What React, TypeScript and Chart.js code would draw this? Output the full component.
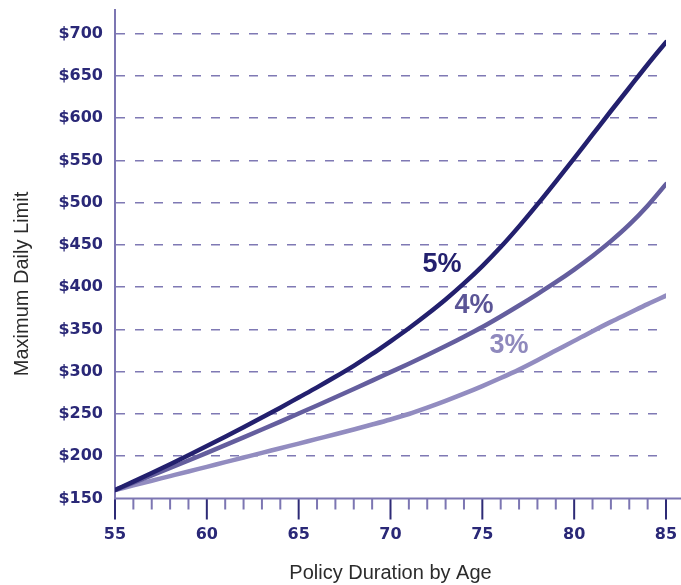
import React, { useEffect, useRef } from "react";
import { Chart, registerables } from "chart.js";

Chart.register(...registerables);

// ---- data ----
const AGES = [55, 56, 57, 58, 59, 60, 61, 62, 63, 64, 65, 66, 67, 68, 69, 70, 71, 72, 73, 74, 75, 76, 77, 78, 79, 80, 81, 82, 83, 84, 85];
const LIMIT_5 = [160, 170, 180.2, 190.6, 201.2, 212, 223, 234.3, 245.9, 257.5, 269.5, 281.5, 294, 307, 321, 336, 351.5, 368, 385.5, 404.5, 425, 447.5, 472, 498, 525, 552.5, 580.5, 608.5, 636, 663.5, 690];
const LIMIT_4 = [160, 168.6, 177.3, 186.1, 195, 204, 213.1, 222.3, 231.6, 241, 250.5, 260.1, 269.8, 279.6, 289.5, 299.5, 309.5, 319.8, 330.4, 341.4, 352.9, 365.4, 378.4, 391.9, 405.9, 420.9, 437, 454.5, 474, 496.5, 522];
const LIMIT_3 = [160, 165.5, 171, 176.5, 182, 187.5, 193, 198.5, 204, 209.5, 215, 220.5, 226, 231.7, 237.5, 243.5, 250, 257.5, 265.5, 274, 283, 292.5, 302.5, 313.5, 325, 336.5, 348, 359, 369.5, 380, 390];
const SERIES_NAMES = ["5%", "4%", "3%"];
const Y_TICKS = [150, 200, 250, 300, 350, 400, 450, 500, 550, 600, 650, 700];
const X_TICKS = [55, 60, 65, 70, 75, 80, 85];
const X_TITLE = "Policy Duration by Age";
const Y_TITLE = "Maximum Daily Limit";

// label anchors (in data coordinates)
const LABEL_AGE = [72.8, 74.55, 76.45];
const LABEL_VALUE = [427, 378, 331];

// ---- styles ----
const SERIES_COLORS = ["#23206e", "#645e9e", "#928cc0"];
const LABEL_COLORS = ["#23206e", "#5b5596", "#8f89bd"];
const NAVY = "#2a2877";
const AXIS_COLOR = "#7c76b2";
const GRID_COLOR = "#7f79b4";

const decorPlugin = {
  id: "decor",
  afterDraw(chart: any) {
    const { ctx, chartArea, scales } = chart;
    const x = scales.x;
    const y = scales.y;
    const y0 = y.getPixelForValue(Y_TICKS[0]);
    ctx.save();
    // tick marks below the x axis
    AGES.forEach((a) => {
      const px = x.getPixelForValue(a);
      const major = X_TICKS.includes(a);
      ctx.strokeStyle = major ? "#2e2b76" : AXIS_COLOR;
      ctx.lineWidth = 2;
      ctx.beginPath();
      ctx.moveTo(px, y0);
      ctx.lineTo(px, y0 + (major ? 21 : 11));
      ctx.stroke();
    });
    // x axis line extending to right edge
    ctx.strokeStyle = AXIS_COLOR;
    ctx.lineWidth = 2;
    ctx.beginPath();
    ctx.moveTo(chartArea.left - 1, y0);
    ctx.lineTo(chart.width, y0);
    ctx.stroke();
    // series labels
    ctx.font = 'bold 27px "Liberation Sans", Arial, sans-serif';
    ctx.textAlign = "center";
    ctx.textBaseline = "middle";
    SERIES_NAMES.forEach((n, i) => {
      ctx.fillStyle = LABEL_COLORS[i];
      ctx.fillText(n, x.getPixelForValue(LABEL_AGE[i]), y.getPixelForValue(LABEL_VALUE[i]));
    });
    // y title
    ctx.translate(22, 284);
    ctx.rotate(-Math.PI / 2);
    ctx.font = '20px "Liberation Sans", Arial, sans-serif';
    ctx.fillStyle = "#2b2b2b";
    ctx.textAlign = "center";
    ctx.textBaseline = "middle";
    ctx.fillText(Y_TITLE, 0, 0);
    ctx.restore();
  },
};

export default function App() {
  const ref = useRef<HTMLCanvasElement>(null);
  useEffect(() => {
    if (!ref.current) return;
    const series = [LIMIT_5, LIMIT_4, LIMIT_3];
    const chart = new Chart(ref.current, {
      type: "line",
      data: {
        datasets: series.map((vals, i) => ({
          label: SERIES_NAMES[i],
          data: AGES.map((a, j) => ({ x: a, y: vals[j] })),
          borderColor: SERIES_COLORS[i],
          backgroundColor: SERIES_COLORS[i],
          borderWidth: 4.5,
          borderCapStyle: "round",
          pointRadius: 0,
          cubicInterpolationMode: "monotone",
          fill: false,
        })),
      },
      options: {
        animation: false,
        responsive: true,
        maintainAspectRatio: false,
        layout: { padding: { top: 10, right: 15, left: 0, bottom: 0 } },
        plugins: {
          legend: { display: false },
          tooltip: { enabled: false },
        },
        scales: {
          x: {
            type: "linear",
            min: 55,
            max: 85,
            afterFit: (s: any) => {
              s.height = 86.5;
              s.paddingLeft = 0;
              s.paddingRight = 0;
            },
            afterBuildTicks: (s: any) => {
              s.ticks = X_TICKS.map((v) => ({ value: v }));
            },
            grid: { display: false, drawTicks: false },
            border: { display: false },
            ticks: {
              autoSkip: false,
              maxRotation: 0,
              padding: 27,
              color: NAVY,
              font: { family: '"DejaVu Sans", sans-serif', weight: "bold", size: 16 },
            },
            title: {
              display: true,
              text: X_TITLE,
              color: "#2b2b2b",
              padding: { top: 0, bottom: 0 },
              font: { family: '"Liberation Sans", Arial, sans-serif', size: 20, lineHeight: 1.2 },
            },
          },
          y: {
            type: "linear",
            min: 150,
            max: 728,
            afterFit: (s: any) => {
              s.width = 115;
              s.paddingTop = 0;
              s.paddingBottom = 0;
            },
            afterBuildTicks: (s: any) => {
              s.ticks = Y_TICKS.map((v) => ({ value: v }));
            },
            grid: {
              drawTicks: false,
              color: (c: any) => (c.tick && c.tick.value === Y_TICKS[0] ? "rgba(0,0,0,0)" : GRID_COLOR),
              lineWidth: 1.5,
            },
            border: { display: true, color: AXIS_COLOR, width: 2, dash: [9, 10], dashOffset: 0 } as any,
            ticks: {
              padding: 12,
              color: NAVY,
              font: { family: '"DejaVu Sans", sans-serif', weight: "bold", size: 16 },
              callback: (v: any) => "$" + v,
            },
          },
        },
      },
      plugins: [decorPlugin],
    } as any);
    return () => chart.destroy();
  }, []);
  return (
    <div style={{ position: "fixed", left: 0, top: 0, width: 681, height: 585, background: "#fff" }}>
      <canvas ref={ref} />
    </div>
  );
}
